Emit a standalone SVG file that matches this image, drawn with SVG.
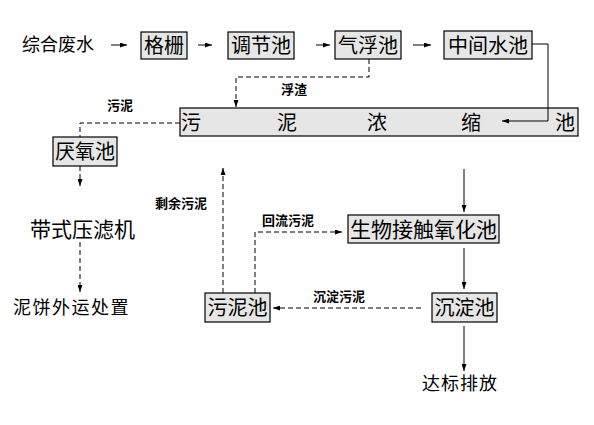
<svg xmlns="http://www.w3.org/2000/svg" width="594" height="425" viewBox="0 0 594 425">
<style>
.box{fill:#e6e6e6;stroke:#000;stroke-width:1.2}
.t{font-family:"Noto Sans CJK SC",sans-serif;fill:#000}
.big{font-size:20px}
.lbl{font-size:13px;font-weight:bold}
.s{stroke:#000;stroke-width:1;fill:none}
.d{stroke:#000;stroke-width:1;fill:none;stroke-dasharray:5,3}
</style>
<defs>
<marker id="a" viewBox="0 0 7 5" refX="7" refY="2.5" markerWidth="7" markerHeight="5" markerUnits="userSpaceOnUse" orient="auto"><path d="M0,0 L7,2.5 L0,5 Z" fill="#000"/></marker>
</defs>
<rect width="594" height="425" fill="#fff"/>
<g id="n_in"><text class="t" x="22" y="51" font-size="18">综合废水</text></g>
<g id="n_gezha"><rect class="box" x="141" y="32" width="46" height="27"/><text class="t big" x="164" y="53" text-anchor="middle">格栅</text></g>
<g id="n_tiaojie"><rect class="box" x="228" y="32" width="66" height="27"/><text class="t big" x="261" y="53" text-anchor="middle">调节池</text></g>
<g id="n_qifu"><rect class="box" x="335" y="31" width="66" height="28"/><text class="t big" x="368" y="53" text-anchor="middle">气浮池</text></g>
<g id="n_zhongjian"><rect class="box" x="444" y="31" width="88" height="28"/><text class="t big" x="488" y="53" text-anchor="middle">中间水池</text></g>
<g id="n_nongsuo"><rect class="box" x="180" y="108" width="398" height="28"/>
<text class="t big" x="181" y="130">污</text><text class="t big" x="277" y="130">泥</text><text class="t big" x="367" y="130">浓</text><text class="t big" x="461" y="130">缩</text><text class="t big" x="555" y="130">池</text></g>
<g id="n_yanyang"><rect class="box" x="53" y="137" width="64" height="29"/><text class="t big" x="85" y="159" text-anchor="middle">厌氧池</text></g>
<g id="n_lvji"><text class="t" x="30" y="237" font-size="21">带式压滤机</text></g>
<g id="n_nibing"><text class="t" x="13" y="314" font-size="18" letter-spacing="1.5">泥饼外运处置</text></g>
<g id="n_wunichi"><rect class="box" x="205" y="293" width="65" height="29"/><text class="t big" x="237.5" y="315" text-anchor="middle">污泥池</text></g>
<g id="n_shengwu"><rect class="box" x="348" y="215" width="151" height="28"/><text class="t" x="423.5" y="237" font-size="21" text-anchor="middle">生物接触氧化池</text></g>
<g id="n_chendian"><rect class="box" x="432" y="293" width="65" height="29"/><text class="t big" x="464.5" y="315" text-anchor="middle">沉淀池</text></g>
<g id="n_out"><text class="t" x="422" y="390" font-size="18" letter-spacing="1">达标排放</text></g>
<g id="connectors">
<line class="s" x1="111" y1="45" x2="127" y2="45" marker-end="url(#a)"/>
<line class="s" x1="198" y1="45" x2="212" y2="45" marker-end="url(#a)"/>
<line class="s" x1="316" y1="45" x2="330" y2="45" marker-end="url(#a)"/>
<line class="s" x1="413" y1="45" x2="431" y2="45" marker-end="url(#a)"/>
<polyline class="s" points="532,44 548,44 548,121 502,121" marker-end="url(#a)"/>
<polyline class="d" points="369,59 369,77 236,77 236,107" marker-end="url(#a)"/>
<polyline class="d" points="180,123 80,123 80,137"/>
<line class="d" x1="80" y1="166" x2="80" y2="186" marker-end="url(#a)"/>
<line class="d" x1="80" y1="242" x2="80" y2="292" marker-end="url(#a)"/>
<line class="d" x1="223" y1="293" x2="223" y2="168" marker-end="url(#a)"/>
<polyline class="d" points="255,293 255,232 342,232" marker-end="url(#a)"/>
<line class="d" x1="421" y1="308" x2="273" y2="308" marker-end="url(#a)"/>
<line class="s" x1="464" y1="169" x2="464" y2="212" marker-end="url(#a)"/>
<line class="s" x1="464" y1="248" x2="464" y2="289" marker-end="url(#a)"/>
<line class="s" x1="464" y1="326" x2="464" y2="371" marker-end="url(#a)"/>
</g>
<g id="labels">
<text class="t lbl" x="281" y="94">浮渣</text>
<text class="t lbl" x="107" y="110">污泥</text>
<text class="t lbl" x="155" y="208">剩余污泥</text>
<text class="t lbl" x="262" y="225">回流污泥</text>
<text class="t lbl" x="313" y="301">沉淀污泥</text>
</g>
</svg>
